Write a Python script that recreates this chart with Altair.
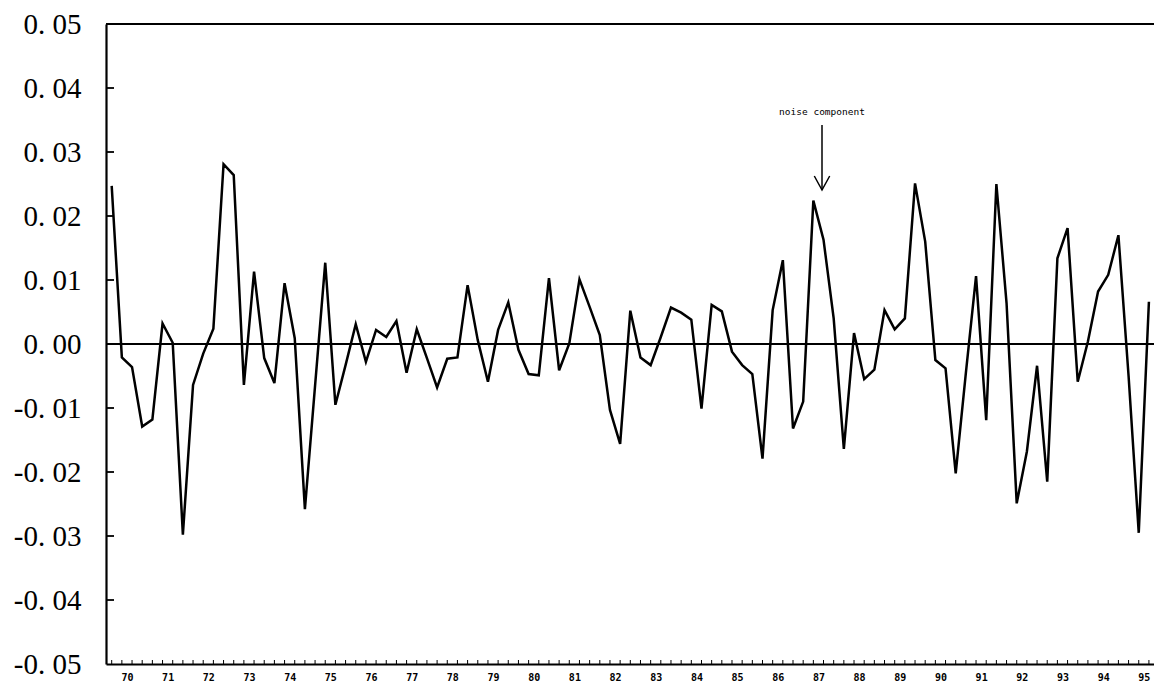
import altair as alt
import pandas as pd

# ---- data (quarterly, 1970Q1 .. 1995Q3) ----
first_year = 70
years = list(range(70, 96))
noise = [
    0.0247, -0.0021, -0.0036, -0.0129, -0.0118, 0.0032, 0.0002, -0.0298,
    -0.0064, -0.0015, 0.0024, 0.0281, 0.0264, -0.0064, 0.0113, -0.0022,
    -0.0061, 0.0095, 0.0009, -0.0258, -0.0065, 0.0127, -0.0095, -0.0033,
    0.0031, -0.0028, 0.0022, 0.0011, 0.0036, -0.0045, 0.0023, -0.0022,
    -0.0068, -0.0023, -0.0021, 0.0092, 0.0006, -0.0059, 0.0022, 0.0065,
    -0.0009, -0.0047, -0.0049, 0.0103, -0.0041, 0.0001, 0.0101, 0.0058,
    0.0014, -0.0103, -0.0156, 0.0052, -0.0021, -0.0033, 0.0011, 0.0057,
    0.0049, 0.0038, -0.0101, 0.0061, 0.0051, -0.0012, -0.0033, -0.0047,
    -0.0179, 0.0053, 0.0131, -0.0132, -0.0090, 0.0224, 0.0163, 0.0040,
    -0.0164, 0.0017, -0.0055, -0.0040, 0.0053, 0.0023, 0.0040, 0.0251,
    0.0160, -0.0025, -0.0038, -0.0202, -0.0045, 0.0106, -0.0119, 0.0250,
    0.0064, -0.0249, -0.0168, -0.0034, -0.0215, 0.0134, 0.0181, -0.0059,
    0.0004, 0.0082, 0.0108, 0.0170, -0.0050, -0.0295, 0.0066,
]
y_label_values = [-0.05, -0.04, -0.03, -0.02, -0.01, 0.0, 0.01, 0.02, 0.03, 0.04, 0.05]
y_tick_values = [-0.04, -0.03, -0.02, -0.01, 0.01, 0.02, 0.03, 0.04]
annotation_text = ["noise component"]

df = pd.DataFrame({"q": list(range(len(noise))), "v": noise})
year_pos = [4 * (y - first_year) + 1.5 for y in years]

W, H = 1048, 640
xscale = alt.Scale(domain=[-0.56, 102.5], nice=False, zero=False)
yscale = alt.Scale(domain=[-0.05, 0.05], nice=False, zero=False)

x_axis = alt.Axis(values=year_pos, title=None, grid=False, ticks=False,
                  domain=True, domainColor="black", domainWidth=2.2,
                  labelExpr=f"'' + ({first_year} + floor(datum.value / 4))",
                  labelFont="DejaVu Sans Mono", labelFontSize=10,
                  labelFontWeight="bold", labelColor="black",
                  labelPadding=8, labelOverlap=False, labelFlush=False)
y_axis = alt.Axis(values=y_label_values, title=None, grid=False, ticks=False,
                  domain=True, domainColor="black", domainWidth=2.2,
                  labelExpr="(datum.value < -0.0001 ? '-' : '') + replace(format(abs(datum.value), '.2f'), '.', '. ')",
                  labelFont="Liberation Serif", labelFontSize=29,
                  labelColor="black", labelPadding=25,
                  labelOverlap=False, labelFlush=False)

line = alt.Chart(df).mark_line(color="black", strokeWidth=2.5, strokeJoin="miter").encode(
    x=alt.X("q:Q", scale=xscale, axis=x_axis),
    y=alt.Y("v:Q", scale=yscale, axis=y_axis),
)

hlines = alt.Chart(pd.DataFrame({"y": [0.0, 0.05]})).mark_rule(
    color="black", strokeWidth=2.2).encode(y=alt.Y("y:Q", scale=yscale, title=None))

yticks = alt.Chart(pd.DataFrame({"y": y_tick_values})).mark_rule(
    color="black", strokeWidth=1.8).encode(
    y=alt.Y("y:Q", scale=yscale, title=None), x=alt.value(0), x2=alt.value(8))

xticks = alt.Chart(df).mark_rule(color="black", strokeWidth=1).encode(
    x=alt.X("q:Q", scale=xscale, title=None), y=alt.value(H), y2=alt.value(H - 4))

label = alt.Chart(pd.DataFrame({"t": annotation_text})).mark_text(
    font="DejaVu Sans Mono", fontSize=9.5, align="center", baseline="middle",
    color="black").encode(text="t:N", x=alt.value(716), y=alt.value(88))

shaft = alt.Chart(pd.DataFrame({"t": annotation_text})).mark_rule(
    color="black", strokeWidth=1.5).encode(
    x=alt.value(716), y=alt.value(101), y2=alt.value(166))

head = alt.Chart(pd.DataFrame({"t": annotation_text})).mark_point(
    shape="M-0.55,-1L0,0L0.55,-1", filled=False, color="black",
    strokeWidth=1.5, size=784, opacity=1).encode(
    x=alt.value(716), y=alt.value(166))

chart = alt.layer(line, hlines, yticks, xticks, label, shaft, head).properties(
    width=W, height=H,
    autosize=alt.AutoSizeParams(type="none"),
    padding={"left": 98, "top": 16, "right": 0, "bottom": 19},
    background="white",
).configure_view(strokeWidth=0)

chart.save("out.html", embed_options={"renderer": "svg", "actions": False})
